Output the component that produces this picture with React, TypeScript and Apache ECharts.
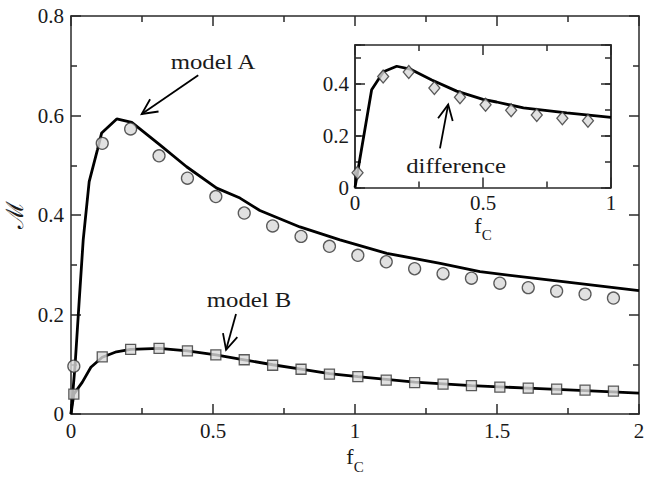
import React, { useEffect, useRef } from "react";
import * as echarts from "echarts";

// marker abscissas (main plot)
const markerX = [0.01, 0.11, 0.21, 0.31, 0.41, 0.51, 0.61, 0.71, 0.81, 0.91, 1.01, 1.11, 1.21, 1.31, 1.41, 1.51, 1.61, 1.71, 1.81, 1.91];
// model A simulation (circles)
const modelAPoints = [0.096, 0.544, 0.573, 0.519, 0.474, 0.437, 0.404, 0.378, 0.357, 0.337, 0.319, 0.306, 0.292, 0.282, 0.273, 0.263, 0.254, 0.247, 0.241, 0.233];
// model B simulation (squares)
const modelBPoints = [0.04, 0.115, 0.13, 0.132, 0.127, 0.119, 0.109, 0.098, 0.09, 0.08, 0.075, 0.068, 0.063, 0.06, 0.057, 0.054, 0.052, 0.05, 0.048, 0.046];

// model A theory curve
const lineAX = [0, 0.014, 0.029, 0.043, 0.064, 0.093, 0.108, 0.161, 0.214, 0.313, 0.407, 0.513, 0.595, 0.665, 0.806, 0.947, 1.112, 1.3, 1.44, 1.733, 2.0];
const lineAY = [0, 0.095, 0.229, 0.35, 0.467, 0.531, 0.565, 0.593, 0.586, 0.541, 0.497, 0.454, 0.434, 0.409, 0.376, 0.35, 0.323, 0.303, 0.286, 0.266, 0.248];
// model B theory curve
const lineBX = [0, 0.01, 0.04, 0.07, 0.11, 0.16, 0.21, 0.31, 0.41, 0.51, 0.61, 0.71, 0.81, 0.91, 1.01, 1.21, 1.41, 1.61, 1.81, 2.0];
const lineBY = [0, 0.04, 0.064, 0.094, 0.114, 0.125, 0.13, 0.132, 0.127, 0.119, 0.109, 0.099, 0.09, 0.081, 0.075, 0.064, 0.057, 0.052, 0.047, 0.042];

// inset: difference
const insetMarkerX = [0.01, 0.11, 0.21, 0.31, 0.41, 0.51, 0.61, 0.71, 0.81, 0.91];
const diffPoints = [0.057, 0.428, 0.446, 0.384, 0.348, 0.319, 0.298, 0.28, 0.267, 0.258];
const diffLineX = [0, 0.065, 0.111, 0.163, 0.215, 0.3, 0.397, 0.5, 0.553, 0.658, 0.827, 1.0];
const diffLineY = [0, 0.377, 0.447, 0.468, 0.457, 0.415, 0.372, 0.34, 0.33, 0.307, 0.288, 0.271];

const zip = (xs: number[], ys: number[]) => xs.map((x, i) => [x, ys[i]]);

const FONT = "'Liberation Serif', 'Times New Roman', Times, serif";
const INK = "#1a1a1a";
const AXIS = "#2a2a2a";

function axis(extra: any) {
  return {
    type: "value",
    axisLine: { show: true, onZero: false, lineStyle: { color: AXIS, width: 1.5 } },
    axisTick: { show: true, inside: true, length: 10, lineStyle: { color: AXIS, width: 1.5 } },
    minorTick: { show: true, splitNumber: 2, length: 6, lineStyle: { color: AXIS, width: 1.5 } },
    splitLine: { show: false },
    minorSplitLine: { show: false },
    axisLabel: { show: false },
    ...extra,
  };
}

const labelStyle = (margin: number, extra: any = {}) => ({
  show: true,
  margin,
  color: INK,
  fontFamily: FONT,
  fontSize: 21,
  ...extra,
});

const fcName = {
  name: "{f|f}{c|C}",
  nameLocation: "middle",
  nameTextStyle: {
    rich: {
      f: { fontFamily: FONT, fontSize: 22, color: INK },
      c: { fontFamily: FONT, fontSize: 15, color: INK, padding: [20, 0, 0, 0] },
    },
  },
};

export default function App() {
  const ref = useRef<HTMLDivElement>(null);
  useEffect(() => {
    document.body.style.margin = "0";
    const chart = echarts.init(ref.current!, null, { renderer: "svg" });
    const markerStyle = { color: "#d9d9d9", borderColor: "#333", borderWidth: 1.3 };
    const option: any = {
      animation: false,
      backgroundColor: "#fff",
      grid: [
        { left: 71, top: 16, width: 568, height: 398, outerBoundsMode: "none", containLabel: false },
        { left: 355, top: 45, width: 256, height: 142.5, show: true, backgroundColor: "#fff", borderWidth: 0, z: 5, outerBoundsMode: "none", containLabel: false },
      ],
      xAxis: [
        axis({ gridIndex: 0, position: "bottom", min: 0, max: 2, interval: 0.5, axisLabel: labelStyle(6), ...fcName, nameGap: 12 }),
        axis({ gridIndex: 0, position: "top", min: 0, max: 2, interval: 0.5 }),
        axis({ gridIndex: 1, position: "bottom", min: 0, max: 1, interval: 0.5, axisLabel: labelStyle(5), ...fcName, nameGap: 20, z: 6 }),
        axis({ gridIndex: 1, position: "top", min: 0, max: 1, interval: 0.5, z: 6 }),
      ],
      yAxis: [
        axis({
          gridIndex: 0, position: "left", min: 0, max: 0.8, interval: 0.2,
          axisLabel: labelStyle(7),
          name: "ℳ", nameLocation: "middle", nameGap: 38, nameRotate: 90,
          nameTextStyle: { fontFamily: "'DejaVu Serif', serif", fontSize: 24, color: INK },
        }),
        axis({ gridIndex: 0, position: "right", min: 0, max: 0.8, interval: 0.2 }),
        axis({
          gridIndex: 1, position: "left", min: 0, max: 0.55, interval: 0.2, minorTick: { show: false }, z: 6,
          axisLabel: labelStyle(6, { formatter: (v: number) => (Math.abs(v - 0.55) < 1e-6 ? "" : String(Math.round(v * 10) / 10)) }),
        }),
        axis({ gridIndex: 1, position: "left", min: 0, max: 0.55, interval: 0.1, minorTick: { show: false }, axisTick: { show: true, inside: true, length: 6, lineStyle: { color: AXIS, width: 1.5 } }, z: 6 }),
        axis({ gridIndex: 1, position: "right", min: 0, max: 0.55, interval: 0.2, minorTick: { show: false }, z: 6 }),
        axis({ gridIndex: 1, position: "right", min: 0, max: 0.55, interval: 0.1, minorTick: { show: false }, axisTick: { show: true, inside: true, length: 6, lineStyle: { color: AXIS, width: 1.5 } }, z: 6 }),
      ],
      series: [
        { type: "line", xAxisIndex: 0, yAxisIndex: 0, data: zip(lineAX, lineAY), symbol: "none", lineStyle: { color: "#000", width: 2.8 }, z: 2 },
        { type: "line", xAxisIndex: 0, yAxisIndex: 0, data: zip(lineBX, lineBY), symbol: "none", lineStyle: { color: "#000", width: 2.8 }, z: 2 },
        { type: "scatter", xAxisIndex: 0, yAxisIndex: 0, data: zip(markerX, modelAPoints), symbol: "circle", symbolSize: 12, itemStyle: markerStyle, z: 3 },
        { type: "scatter", xAxisIndex: 0, yAxisIndex: 0, data: zip(markerX, modelBPoints), symbol: "rect", symbolSize: 10, itemStyle: markerStyle, z: 3 },
        { type: "line", xAxisIndex: 2, yAxisIndex: 2, data: zip(diffLineX, diffLineY), symbol: "none", lineStyle: { color: "#000", width: 2.8 }, z: 7 },
        { type: "scatter", xAxisIndex: 2, yAxisIndex: 2, data: zip(insetMarkerX, diffPoints), symbol: "diamond", symbolSize: [11, 13], itemStyle: markerStyle, z: 8 },
      ],
    };
    chart.setOption(option);

    const toMain = (p: number[]) => chart.convertToPixel({ xAxisIndex: 0, yAxisIndex: 0 } as any, p) as number[];
    const toInset = (p: number[]) => chart.convertToPixel({ xAxisIndex: 2, yAxisIndex: 2 } as any, p) as number[];

    const arrow = (tail: number[], head: number[]) => {
      const dx = tail[0] - head[0];
      const dy = tail[1] - head[1];
      const len = Math.hypot(dx, dy);
      const ux = dx / len;
      const uy = dy / len;
      const a = (26 * Math.PI) / 180;
      const L = 17;
      const rot = (s: number) => [
        head[0] + L * (ux * Math.cos(s * a) - uy * Math.sin(s * a)),
        head[1] + L * (ux * Math.sin(s * a) + uy * Math.cos(s * a)),
      ];
      const style = { stroke: "#000", lineWidth: 1.8, fill: null };
      return [
        { type: "line", shape: { x1: tail[0], y1: tail[1], x2: head[0], y2: head[1] }, style, z: 20 },
        { type: "polyline", shape: { points: [rot(1), head, rot(-1)] }, style, z: 20 },
      ];
    };
    const label = (p: number[], text: string) => ({
      type: "text",
      x: p[0],
      y: p[1],
      scaleX: 1.18,
      z: 20,
      style: { text, fontFamily: FONT, fontSize: 21, fill: INK, align: "center", verticalAlign: "middle" },
    });

    chart.setOption({
      graphic: [
        label(toMain([0.5, 0.708]), "model A"),
        ...arrow(toMain([0.448, 0.681]), toMain([0.249, 0.603])),
        label(toMain([0.627, 0.229]), "model B"),
        ...arrow(toMain([0.581, 0.201]), toMain([0.546, 0.129])),
        label(toInset([0.395, 0.083]), "difference"),
        ...arrow(toInset([0.332, 0.151]), toInset([0.364, 0.32])),
      ],
    });
    return () => chart.dispose();
  }, []);
  return <div ref={ref} style={{ width: 654, height: 477 }} />;
}
